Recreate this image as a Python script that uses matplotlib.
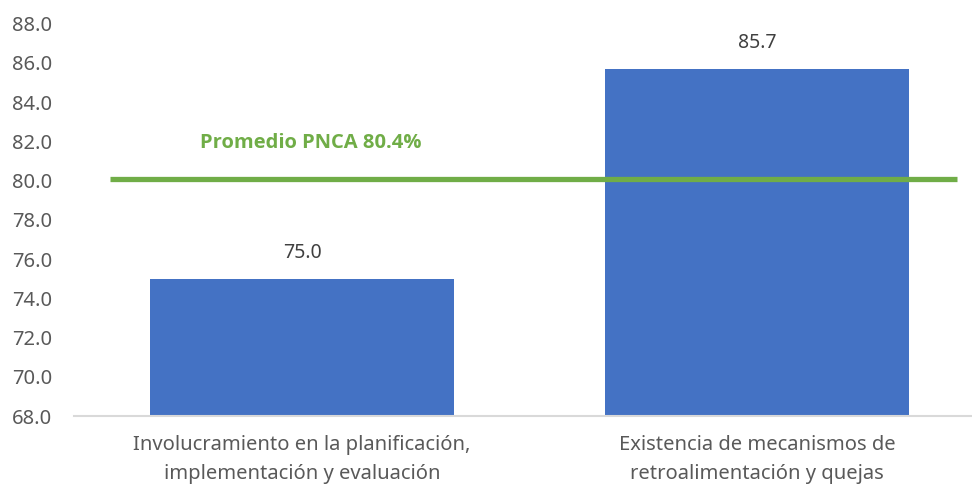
import matplotlib
matplotlib.use("Agg")
import matplotlib.pyplot as plt

categorias = ["Involucramiento en la planificación,\nimplementación y evaluación",
              "Existencia de mecanismos de\nretroalimentación y quejas"]
valores = [75.0, 85.7]
promedio = 80.4
promedio_linea = 80.1
etiqueta_promedio = "Promedio PNCA 80.4%"
yticks = [68, 70, 72, 74, 76, 78, 80, 82, 84, 86, 88]

plt.rcParams['font.family'] = ['Noto Sans', 'DejaVu Sans']

fig = plt.figure(figsize=(9.72, 4.87), dpi=100)
ax = fig.add_axes([74.5 / 972, 1 - 416 / 487, 1 - 74.5 / 972, (416 - 23.5) / 487])

x = range(len(categorias))
ax.bar(x, [v - 68 for v in valores], bottom=68, width=0.666, color="#4472C4", zorder=2)
for xi, v in zip(x, valores):
    ax.annotate(f"{v:.1f}", (xi, v), xytext=(0, 11), textcoords="offset points",
                ha="center", va="bottom", fontsize=14, color="#404040")

ax.hlines(promedio_linea, -0.422, 1.44, color="#70AD47", linewidth=3.8, zorder=3)
ax.text(0.02, 81.93, etiqueta_promedio, ha="center", va="center",
        fontsize=14.5, fontweight="bold", color="#70AD47",
        family=['Open Sans', 'DejaVu Sans'])

ax.set_xlim(-0.5, -0.5 + (972 - 74.5) / 455)
ax.set_ylim(68, 88)
ax.set_yticks(yticks)
ax.set_yticklabels([f"{t:.1f}" for t in yticks])
ax.set_xticks(list(x))
ax.set_xticklabels(categorias, linespacing=1.55)

for s in ["left", "right", "top"]:
    ax.spines[s].set_visible(False)
ax.spines["bottom"].set_color("#D9D9D9")
ax.spines["bottom"].set_linewidth(1.5)
ax.tick_params(axis="y", length=0, pad=16, labelsize=14.5, labelcolor="#595959")
ax.tick_params(axis="x", length=0, pad=14, labelsize=14.5, labelcolor="#595959")

fig.savefig("out.png", dpi=100)
